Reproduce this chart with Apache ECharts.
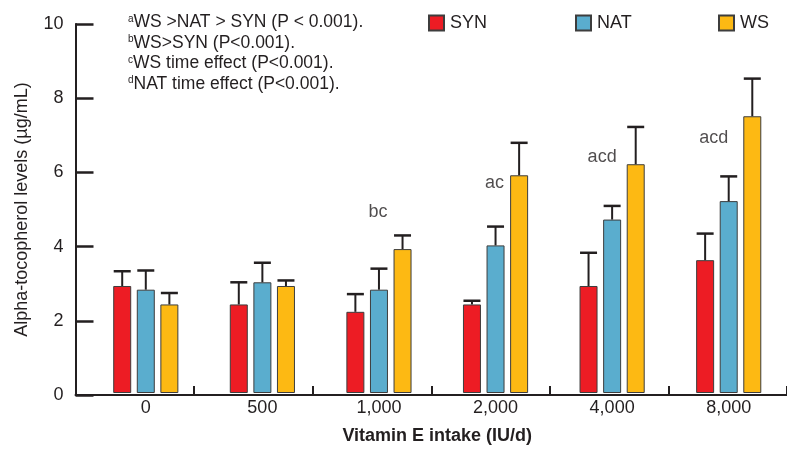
<!DOCTYPE html>
<html>
<head>
<meta charset="utf-8">
<script src="https://cdn.jsdelivr.net/npm/echarts@6/dist/echarts.min.js"></script>
<style>
html,body{margin:0;padding:0;background:#fff;}
#chart{width:787px;height:450px;}
</style>
</head>
<body>
<div id="chart"></div>
<script>
// ---- data ----
const categories = ['0', '500', '1,000', '2,000', '4,000', '8,000'];
const seriesNames = ['SYN', 'NAT', 'WS'];
const synMean = [2.9, 2.4, 2.2, 2.4, 2.9, 3.6];
const synErr  = [0.4, 0.6, 0.48, 0.1, 0.9, 0.72];
const natMean = [2.8, 3.0, 2.8, 4.0, 4.7, 5.2];
const natErr  = [0.52, 0.53, 0.57, 0.51, 0.37, 0.67];
const wsMean  = [2.4, 2.9, 3.9, 5.9, 6.2, 7.5];
const wsErr   = [0.31, 0.15, 0.37, 0.88, 1.01, 1.02];
const yMin = 0, yMax = 10, yInterval = 2;
const annoCat  = [2, 3, 4, 5];
const annoY    = [4.9, 5.7, 6.4, 6.9];
const annoText = ['bc', 'ac', 'acd', 'acd'];
const footSup  = ['a', 'b', 'c', 'd'];
const footText = ['WS >NAT > SYN (P < 0.001).', 'WS>SYN (P<0.001).', 'WS time effect (P<0.001).', 'NAT time effect (P<0.001).'];
const yTitle = 'Alpha-tocopherol levels (µg/mL)';
const xTitle = 'Vitamin E intake (IU/d)';

// ---- styles ----
const FONT = '"Liberation Sans", Arial, Helvetica, sans-serif';
const INK = '#231f20';
const colors = ['#ED1C24', '#5AADCE', '#FDB913'];
const BAR_W = 18, BAR_GAP = 0.31;
const step = BAR_W * (1 + BAR_GAP);
const offsets = [-step, 0, step];

const chart = echarts.init(document.getElementById('chart'), null, {renderer: 'canvas'});

function errRender(offset) {
  return function (params, api) {
    const i = api.value(0), m = api.value(1), e = api.value(2);
    const p0 = api.coord([i, m]);
    const p1 = api.coord([i, m + e]);
    const x = p0[0] + offset;
    const half = 8.5;
    return {
      type: 'group',
      children: [
        {type: 'line', shape: {x1: x, y1: p0[1], x2: x, y2: p1[1]}, style: {stroke: INK, lineWidth: 2}},
        {type: 'line', shape: {x1: x - half, y1: p1[1], x2: x + half, y2: p1[1]}, style: {stroke: INK, lineWidth: 2.5}}
      ]
    };
  };
}

const means = [synMean, natMean, wsMean];
const errs = [synErr, natErr, wsErr];

const series = [];
seriesNames.forEach((n, k) => {
  series.push({
    name: n, type: 'bar', xAxisIndex: 0, yAxisIndex: 0,
    barWidth: BAR_W, barGap: (BAR_GAP * 100) + '%',
    data: means[k],
    itemStyle: {color: colors[k], borderColor: '#3d3d3d', borderWidth: 1},
    emphasis: {disabled: true},
    z: 2
  });
});
seriesNames.forEach((n, k) => {
  series.push({
    name: n + '_err', type: 'custom', xAxisIndex: 0, yAxisIndex: 0,
    renderItem: errRender(offsets[k]),
    data: means[k].map((v, i) => [i, v, errs[k][i]]),
    encode: {x: 0, y: [1, 2]},
    z: 3, silent: true
  });
});
const annoOffsets = [[-1, 0], [-1, 0], [-10, 0], [-15, 0]];
series.push({
  name: 'anno', type: 'scatter', xAxisIndex: 0, yAxisIndex: 0,
  symbolSize: 0, silent: true,
  data: annoCat.map((c, i) => ({
    value: [c, annoY[i]], name: annoText[i],
    label: {offset: annoOffsets[i]}
  })),
  label: {show: true, position: 'inside', formatter: p => p.name,
          fontFamily: FONT, fontSize: 18, color: INK}
});
// axis-only dummy for grid B
series.push({name: 'axisDummy', type: 'line', xAxisIndex: 1, yAxisIndex: 1, data: [], silent: true});

function legendFor(name, left) {
  return {
    data: [name], left: left, top: 14, itemWidth: 15, itemHeight: 15,
    icon: 'rect', padding: 0, selectedMode: false, itemGap: 6,
    textStyle: {fontFamily: FONT, fontSize: 18, color: INK, padding: [0, 0, 0, 1]}
  };
}

const richText = footText.map((t, i) => '{s|' + footSup[i] + '}{t|' + t + '}').join('\n');

const option = {
  animation: false,
  backgroundColor: '#fff',
  grid: [
    {left: 87.5, width: 714, top: 24, height: 371},
    {left: 75.5, width: 714, top: 24, height: 371}
  ],
  legend: [legendFor('SYN', 428), legendFor('NAT', 575), legendFor('WS', 718)],
  xAxis: [
    {
      type: 'category', gridIndex: 0, data: categories,
      axisLine: {show: false}, axisTick: {show: false},
      axisLabel: {fontFamily: FONT, fontSize: 18, color: INK, margin: 6},
      name: xTitle, nameLocation: 'middle', nameGap: 34,
      nameTextStyle: {fontFamily: FONT, fontSize: 18, fontWeight: 'bold', color: INK}
    },
    {
      type: 'category', gridIndex: 1, data: categories,
      axisLine: {show: true, lineStyle: {color: INK, width: 2}},
      axisTick: {show: true, inside: true, length: 9, lineStyle: {color: INK, width: 2}},
      axisLabel: {show: false}
    }
  ],
  yAxis: [
    {type: 'value', gridIndex: 0, min: yMin, max: yMax, interval: yInterval, show: false, splitLine: {show: false}},
    {
      type: 'value', gridIndex: 1, min: yMin, max: yMax, interval: yInterval,
      axisLine: {show: true, lineStyle: {color: INK, width: 2}},
      axisTick: {show: true, inside: true, length: 18, lineStyle: {color: INK, width: 2.5}},
      axisLabel: {fontFamily: FONT, fontSize: 18, color: INK, margin: 12},
      splitLine: {show: false},
      name: yTitle, nameLocation: 'middle', nameGap: 44, nameRotate: 90,
      nameTextStyle: {fontFamily: FONT, fontSize: 18, color: INK}
    }
  ],
  graphic: [{
    type: 'text', left: 128, top: 12,
    style: {
      text: richText,
      fontFamily: FONT, fontSize: 17.5, fill: INK, lineHeight: 20.5,
      rich: {
        s: {fontFamily: FONT, fontSize: 10, lineHeight: 20.5, verticalAlign: 'top', fill: INK, padding: [2, 0, 0, 0]},
        t: {fontFamily: FONT, fontSize: 17.5, lineHeight: 20.5, fill: INK}
      }
    }
  }],
  series: series
};
chart.setOption(option);
</script>
</body>
</html>
